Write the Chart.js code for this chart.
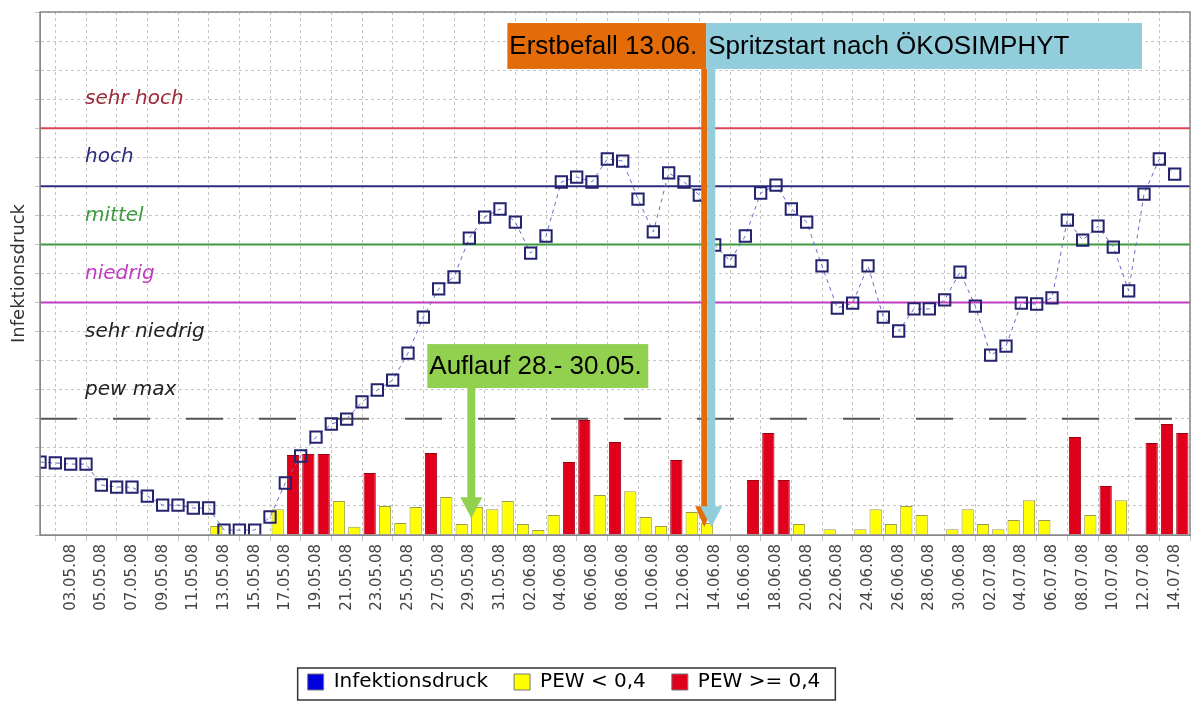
<!DOCTYPE html>
<html>
<head>
<meta charset="utf-8">
<script src="https://cdn.jsdelivr.net/npm/chart.js@4.4.0/dist/chart.umd.min.js"></script>
<style>
  html, body { margin: 0; padding: 0; background: #fff; overflow: hidden; }
  canvas { display: block; }
</style>
</head>
<body>
<canvas id="chart" width="1192" height="702"></canvas>
<script>
// one value per day, index 0 = 01.05.08 ... index 74 = 14.07.08
const tickLabels = ['03.05.08', '05.05.08', '07.05.08', '09.05.08', '11.05.08', '13.05.08', '15.05.08',
    '17.05.08', '19.05.08', '21.05.08', '23.05.08', '25.05.08', '27.05.08', '29.05.08', '31.05.08',
    '02.06.08', '04.06.08', '06.06.08', '08.06.08', '10.06.08', '12.06.08', '14.06.08', '16.06.08',
    '18.06.08', '20.06.08', '22.06.08', '24.06.08', '26.06.08', '28.06.08', '30.06.08', '02.07.08',
    '04.07.08', '06.07.08', '08.07.08', '10.07.08', '12.07.08', '14.07.08'];
const tickDays = [2, 4, 6, 8, 10, 12, 14, 16, 18, 20, 22, 24, 26, 28, 30, 32, 34, 36, 38, 40, 42, 44, 46,
    48, 50, 52, 54, 56, 58, 60, 62, 64, 66, 68, 70, 72, 74];

const infektionsdruck = [2.51, 2.48, 2.44, 2.44, 1.72, 1.65, 1.65, 1.34, 1.03, 1.03,
    0.93, 0.93, 0.17, 0.17, 0.17, 0.62, 1.79, 2.72, 3.37, 3.82,
    3.99, 4.58, 4.99, 5.33, 6.26, 7.50, 8.47, 8.88, 10.22, 10.94,
    11.22, 10.77, 9.70, 10.29, 12.15, 12.32, 12.15, 12.94, 12.87, 11.56,
    10.43, 12.46, 12.15, 11.70, 9.98, 9.43, 10.29, 11.77, 12.04, 11.22,
    10.77, 9.26, 7.81, 7.98, 9.26, 7.50, 7.02, 7.78, 7.78, 8.09,
    9.05, 7.88, 6.19, 6.50, 7.98, 7.95, 8.16, 10.84, 10.15, 10.63,
    9.91, 8.40, 11.73, 12.94, 12.42];

const pewLow = [null, null, null, null, null, null, null, null, null, null,
    null, 0.31, null, null, null, 0.89, null, null, null, 1.17,
    0.28, null, 1.0, 0.41, 0.96, null, 1.31, 0.38, 0.96, 0.89,
    1.17, 0.38, 0.17, 0.69, null, null, 1.38, null, 1.51, 0.62,
    0.31, null, 0.79, 0.41, null, null, null, null, null, 0.38,
    null, 0.2, null, 0.2, 0.89, 0.38, 1.0, 0.69, null, 0.2,
    0.89, 0.38, 0.2, 0.52, 1.2, 0.52, null, null, 0.69, null,
    1.2, null, null, null, null];

const pewHigh = [null, null, null, null, null, null, null, null, null, null,
    null, null, null, null, null, null, 2.75, 2.79, 2.79, null,
    null, 2.13, null, null, null, 2.82, null, null, null, null,
    null, null, null, null, 2.51, 3.96, null, 3.2, null, null,
    null, 2.58, null, null, null, null, 1.89, 3.51, 1.89, null,
    null, null, null, null, null, null, null, null, null, null,
    null, null, null, null, null, null, null, 3.37, null, 1.69,
    null, null, 3.17, 3.82, 3.51];

const levels = [14, 12, 10, 8];
const levelColors = ['#dc4654', '#2c2c7c', '#3c9a3c', '#c23cc2'];
const pewMax = 4;
const zoneNames = ['sehr hoch', 'hoch', 'mittel', 'niedrig', 'sehr niedrig', 'pew max'];
const zoneValues = [15, 13, 11, 9, 7, 5];
const zoneColors = ['#a02838', '#2c2c7c', '#3c9a3c', '#c23cc2', '#222', '#222'];

const legendNames = ['Infektionsdruck', 'PEW < 0,4', 'PEW >= 0,4'];
const legendColors = ['#0000dd', '#ffff00', '#e0001c'];

const notes = [
    { text: 'Auflauf 28.- 30.05.', fill: '#92d050', x0: 25.26, x1: 39.67, top: 6.57, bottom: 5.06, arrowX: 28.13, tip: 0.58, shaft: 8, head: 22 },
    { text: 'Erstbefall 13.06.', fill: '#e36c09', x0: 30.48, x1: 43.45, top: 17.62, bottom: 16.04, arrowX: 43.32, tip: 0.27, shaft: 6, head: 18 },
    { text: 'Spritzstart nach ÖKOSIMPHYT', fill: '#92cddc', x0: 43.45, x1: 71.87, top: 17.62, bottom: 16.04, arrowX: 43.78, tip: 0.27, shaft: 8, head: 22 },
];

const levelPlugin = {
    id: 'levels',
    beforeDatasetsDraw(chart) {
        const { ctx, chartArea: a, scales: { y } } = chart;
        ctx.save();
        ctx.lineWidth = 2;
        levels.forEach((v, k) => {
            const py = y.getPixelForValue(v);
            ctx.strokeStyle = levelColors[k];
            ctx.beginPath();
            ctx.moveTo(a.left, py);
            ctx.lineTo(a.right, py);
            ctx.stroke();
        });
        ctx.strokeStyle = '#555';
        ctx.setLineDash([37, 36]);
        ctx.beginPath();
        ctx.moveTo(a.left, y.getPixelForValue(pewMax));
        ctx.lineTo(a.right, y.getPixelForValue(pewMax));
        ctx.stroke();
        ctx.setLineDash([]);
        ctx.font = 'italic 20px "DejaVu Sans"';
        ctx.textBaseline = 'middle';
        zoneNames.forEach((n, k) => {
            ctx.fillStyle = zoneColors[k];
            ctx.fillText(n, a.left + 45, y.getPixelForValue(zoneValues[k]));
        });
        ctx.restore();
    },
};

const framePlugin = {
    id: 'frame',
    afterLayout(chart) {
        // legend sits left of centre in the original
        chart.legend.left -= 31;
        chart.legend.right -= 31;
    },
    afterDraw(chart) {
        const { ctx, chartArea: a, scales: { x, y } } = chart;
        ctx.save();
        ctx.strokeStyle = '#888';
        ctx.lineWidth = 1.5;
        ctx.strokeRect(a.left, a.top, a.right - a.left, a.bottom - a.top);

        notes.forEach((n) => {
            const bx0 = x.getPixelForValue(n.x0), bx1 = x.getPixelForValue(n.x1);
            const by0 = y.getPixelForValue(n.top), by1 = y.getPixelForValue(n.bottom);
            const ax = x.getPixelForValue(n.arrowX), tip = y.getPixelForValue(n.tip);
            ctx.fillStyle = n.fill;
            ctx.fillRect(bx0, by0, bx1 - bx0, by1 - by0);
            ctx.fillRect(ax - n.shaft / 2, by1, n.shaft, tip - 20 - by1);
            ctx.beginPath();
            ctx.moveTo(ax - n.head / 2, tip - 21);
            ctx.lineTo(ax + n.head / 2, tip - 21);
            ctx.lineTo(ax, tip);
            ctx.closePath();
            ctx.fill();
            ctx.fillStyle = '#000';
            ctx.font = '26px "Liberation Sans"';
            ctx.textBaseline = 'middle';
            ctx.fillText(n.text, bx0 + 2, (by0 + by1) / 2 + 1);
        });

        const hb = chart.legend.legendHitBoxes;
        if (hb && hb.length) {
            const last = hb[hb.length - 1];
            const l = hb[0].left - 10, r = last.left + last.width + 15;
            const t = hb[0].top - 4, h = hb[0].height + 12;
            ctx.strokeStyle = '#333';
            ctx.lineWidth = 1.5;
            ctx.strokeRect(l, t, r - l, h);
        }
        ctx.restore();
    },
};

new Chart(document.getElementById('chart'), {
    data: {
        datasets: [
            {
                type: 'line',
                label: 'Infektionsdruck',
                data: infektionsdruck.map((v, i) => ({ x: i, y: v })),
                borderColor: '#6a6ac8',
                borderWidth: 1,
                borderDash: [4, 4],
                pointStyle: 'rect',
                pointRadius: 8,
                pointBorderWidth: 2,
                pointBorderColor: '#23236e',
                pointBackgroundColor: 'rgba(255,255,255,0)',
                clip: 0,
                order: 0,
            },
            {
                type: 'bar',
                label: 'PEW < 0,4',
                data: pewLow.map((v, i) => ({ x: i + 0.5, y: v })).filter((p) => p.y !== null),
                backgroundColor: '#ffff00',
                borderColor: '#9a9a50',
                borderWidth: 1,
                grouped: false,
                categoryPercentage: 1,
                barPercentage: 0.8,
                order: 1,
            },
            {
                type: 'bar',
                label: 'PEW >= 0,4',
                data: pewHigh.map((v, i) => ({ x: i + 0.5, y: v })).filter((p) => p.y !== null),
                backgroundColor: '#e0001c',
                borderColor: '#a00014',
                borderWidth: 1,
                grouped: false,
                categoryPercentage: 1,
                barPercentage: 0.8,
                order: 1,
            },
        ],
    },
    options: {
        responsive: false,
        animation: false,
        devicePixelRatio: 1,
        layout: { autoPadding: false, padding: { top: 12, right: 2, left: 0, bottom: 0 } },
        plugins: {
            tooltip: { enabled: false },
            legend: {
                position: 'bottom',
                labels: {
                    font: { family: 'DejaVu Sans', size: 20 },
                    color: '#222',
                    boxWidth: 16,
                    boxHeight: 16,
                    padding: 26,
                    generateLabels: () => legendNames.map((t, k) => ({
                        text: t, fillStyle: legendColors[k], strokeStyle: '#777', lineWidth: 1, hidden: false, datasetIndex: k,
                    })),
                },
            },
        },
        scales: {
            x: {
                type: 'linear',
                offset: false,
                min: 0,
                max: 75,
                afterBuildTicks: (s) => { s.ticks = tickDays.map((v) => ({ value: v })); },
                afterFit: (s) => {
                    s.height = 702 - s.chart.legend.height - 535;
                    s.paddingLeft = 0;
                    s.paddingRight = 0;
                },
                ticks: {
                    autoSkip: false,
                    minRotation: 90,
                    maxRotation: 90,
                    padding: 3,
                    color: '#444',
                    font: { family: 'DejaVu Sans', size: 15 },
                    callback: (v, i) => tickLabels[i],
                },
                grid: { color: '#c4c4c4', tickLength: 6 },
                border: { color: '#888', dash: [3, 3] },
            },
            y: {
                min: 0,
                max: 18,
                afterFit: (s) => { s.width = 40; },
                ticks: { display: false, stepSize: 1 },
                grid: { color: '#c4c4c4', tickLength: 5 },
                border: { color: '#888', dash: [3, 3] },
                title: {
                    display: true,
                    text: 'Infektionsdruck',
                    color: '#333',
                    font: { family: 'DejaVu Sans', size: 18 },
                    padding: { top: 9, bottom: 0 },
                },
            },
        },
    },
    plugins: [levelPlugin, framePlugin],
});
</script>
</body>
</html>
